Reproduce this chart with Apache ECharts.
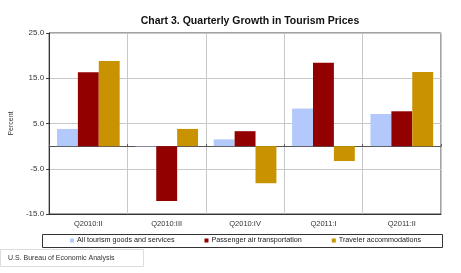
<!DOCTYPE html>
<html>
<head>
<meta charset="utf-8">
<script src="https://cdn.jsdelivr.net/npm/echarts@6/dist/echarts.min.js"></script>
<style>
  html, body { margin: 0; padding: 0; background: #fff; }
  #chart { width: 461px; height: 273px; }
</style>
</head>
<body>
<div id="chart"></div>
<script>
// data
let quarters = ['Q2010:II', 'Q2010:III', 'Q2010:IV', 'Q2011:I', 'Q2011:II'];
let allTourism = [3.8, -0.1, 1.5, 8.3, 7.1];
let airTransport = [16.3, -12.1, 3.3, 18.4, 7.7];
let accommodations = [18.8, 3.8, -8.2, -3.3, 16.4];
let seriesNames = ['All tourism goods and services', 'Passenger air transportation', 'Traveler accommodations'];
let colors = ['#b3c9fb', '#920000', '#c99200'];

let font = 'Liberation Sans, Arial, sans-serif';
let ctx = document.getElementById('chart');
let chart = echarts.init(ctx, null, {renderer: 'canvas'});

let values = [allTourism, airTransport, accommodations];

let option = {
    animation: false,
    title: {
        text: 'Chart 3. Quarterly Growth in Tourism Prices',
        left: 245,
        textAlign: 'center',
        top: 11,
        textStyle: {fontFamily: font, fontSize: 10.5, fontWeight: 'bold', color: '#111'}
    },
    grid: {
        left: 42, right: 20, top: 33, bottom: 59,
        show: true,
        borderColor: '#444',
        borderWidth: 1
    },
    legend: {
        data: seriesNames,
        left: 70,
        top: 237,
        padding: 0,
        icon: 'rect',
        itemWidth: 4,
        itemHeight: 4,
        itemGap: 30,
        textStyle: {fontFamily: font, fontSize: 7.2, color: '#222', padding: [0, 0, 0, -2]}
    },
    xAxis: [{
        type: 'category',
        data: quarters,
        axisLine: {onZero: false, lineStyle: {color: '#333'}},
        axisTick: {show: false},
        splitLine: {show: true, lineStyle: {color: '#c8c8c8', width: 1}},
        axisLabel: {fontFamily: font, fontSize: 7.5, color: '#333', margin: 6}
    }, {
        type: 'category',
        data: quarters,
        position: 'bottom',
        axisLine: {onZero: true, lineStyle: {color: '#555'}},
        axisTick: {show: true, inside: true, length: 2, lineStyle: {color: '#555'}},
        axisLabel: {show: false},
        splitLine: {show: false}
    }],
    yAxis: {
        type: 'value',
        min: -15,
        max: 25,
        interval: 10,
        name: 'Percent',
        nameLocation: 'middle',
        nameGap: 28,
        nameTextStyle: {fontFamily: font, fontSize: 7, color: '#333'},
        axisLine: {show: true, lineStyle: {color: '#333'}},
        axisTick: {show: true, length: 3, lineStyle: {color: '#333'}},
        splitLine: {show: true, lineStyle: {color: '#c8c8c8', width: 1}},
        axisLabel: {
            fontFamily: font, fontSize: 8, color: '#333', margin: 5,
            formatter: v => v.toFixed(1)
        }
    },
    series: seriesNames.map((name, i) => ({
        name: name,
        type: 'bar',
        data: values[i],
        barGap: '0%',
        barCategoryGap: '20%',
        itemStyle: {color: colors[i]}
    })),
    graphic: [{
        type: 'rect',
        shape: {x: 42.5, y: 234.5, width: 400, height: 13},
        style: {fill: 'none', stroke: '#333', lineWidth: 1},
        z: -1
    }, {
        type: 'rect',
        shape: {x: 0.5, y: 249.5, width: 143, height: 17},
        style: {fill: 'none', stroke: '#ddd', lineWidth: 1}
    }, {
        type: 'text',
        left: 8,
        top: 255,
        style: {text: 'U.S. Bureau of Economic Analysis', font: '7px ' + font, fill: '#333'}
    }]
};

chart.setOption(option, true);
</script>
</body>
</html>
